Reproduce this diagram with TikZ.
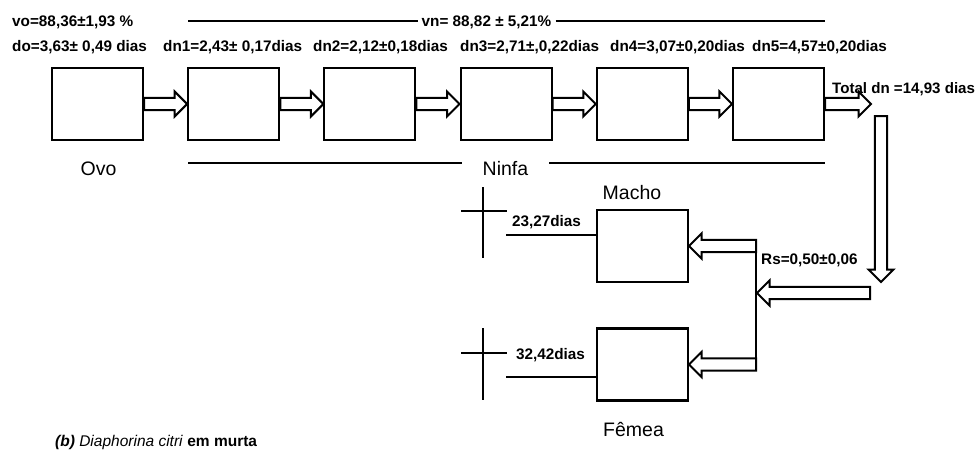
\documentclass[tikz,border=0pt]{standalone}
\usepackage{fontspec}
\setmainfont{Liberation Sans}
\usepackage{tikz}
\usetikzlibrary{calc}
\definecolor{InkDark}{RGB}{0,0,0}

\begin{document}
\begin{tikzpicture}[x=1pt, y=-1pt,
    stage/.style={rectangle, draw=InkDark, line width=2.1pt,
                  minimum width=91pt, minimum height=72pt, inner sep=0pt},
    datum/.style={font=\fontsize{15.3}{18}\selectfont\bfseries, inner sep=0pt},
    stagename/.style={font=\fontsize{19.5}{23}\selectfont, inner sep=0pt},
    bar/.style={draw=InkDark, line width=2pt},
    hollow/.style={draw=InkDark, line width=2pt, line join=miter, to path={
        ($(\tikztostart)!6.2pt!90:(\tikztotarget)$)
        -- ($($(\tikztotarget)!12.5pt!(\tikztostart)$)!6.2pt!90:(\tikztotarget)$)
        -- ($($(\tikztotarget)!12.5pt!(\tikztostart)$)!12.5pt!90:(\tikztotarget)$)
        -- (\tikztotarget)
        -- ($($(\tikztotarget)!12.5pt!(\tikztostart)$)!12.5pt!-90:(\tikztotarget)$)
        -- ($($(\tikztotarget)!12.5pt!(\tikztostart)$)!6.2pt!-90:(\tikztotarget)$)
        -- ($(\tikztostart)!6.2pt!-90:(\tikztotarget)$) -- cycle}}
  ]
    \useasboundingbox (0,0) rectangle (980,452);

    \node[stage] (e1) at (97.5,104) {};
    \node[stage] (n1) at (233.7,104) {};
    \node[stage] (n2) at (369.9,104) {};
    \node[stage] (n3) at (506.1,104) {};
    \node[stage] (n4) at (642.3,104) {};
    \node[stage] (n5) at (778.5,104) {};
    \node[stage] (mac) at (642.5,246) {};
    \node[stage] (fem) at (642.5,364.5) {};

    \coordinate (out) at (871,104);
    \coordinate (dwA) at (881,116);
    \coordinate (dwB) at (881,282);
    \coordinate (rsA) at (870,293);
    \coordinate (rsB) at (757,293);
    \coordinate (brT) at (756,240);
    \coordinate (brB) at (756,371);
    \coordinate (brM) at (756,246);
    \coordinate (brF) at (756,364.5);

    \draw[hollow] (e1.east) to (n1.west);
    \draw[hollow] (n1.east) to (n2.west);
    \draw[hollow] (n2.east) to (n3.west);
    \draw[hollow] (n3.east) to (n4.west);
    \draw[hollow] (n4.east) to (n5.west);
    \draw[hollow] (n5.east) to (out);
    \draw[hollow] (dwA) to (dwB);
    \draw[hollow] (rsA) to (rsB);
    \draw[bar] (brT) -- (brB);
    \draw[hollow] (brM) to (mac.east);
    \draw[hollow] (brF) to (fem.east);

    \node[datum, anchor=west] (vo) at (12,22) {vo=88,36±1,93 \%};
    \node[datum, anchor=west] (do) at (12,47) {do=3,63± 0,49 dias};
    \node[datum, anchor=west] (dn1) at (163,47) {dn1=2,43± 0,17dias};
    \node[datum, anchor=west] (dn2) at (313,47) {dn2=2,12±0,18dias};
    \node[datum, anchor=west] (dn3) at (460,47) {dn3=2,71±,0,22dias};
    \node[datum, anchor=west] (dn4) at (610,47) {dn4=3,07±0,20dias};
    \node[datum, anchor=west] (dn5) at (752,47) {dn5=4,57±0,20dias};

    \coordinate (tl1) at (188,21);
    \coordinate (tl2) at (825,21);
    \node[datum, inner xsep=4pt] (vn) at (486.5,22) {vn= 88,82 ± 5,21\%};
    \draw[bar] (tl1) -- (tl1 -| vn.west);
    \draw[bar] (tl2 -| vn.east) -- (tl2);

    \coordinate (bl1) at (188,163);
    \coordinate (bl2) at (825,163);
    \node[stagename, anchor=base, inner xsep=21pt] (nin) at (505.5,175) {Ninfa};
    \draw[bar] (bl1) -- (bl1 -| nin.west);
    \draw[bar] (bl2 -| nin.east) -- (bl2);

    \node[stagename, anchor=base] (ovo) at (98.5,175.5) {Ovo};
    \node[stagename, anchor=base] (mch) at (632,199) {Macho};
    \node[stagename, anchor=base] (fma) at (633.5,436) {Fêmea};

    \node[datum, anchor=west, font=\fontsize{15.1}{18}\selectfont\bfseries] (tot) at (832,89) {Total dn =14,93 dias};
    \node[datum, anchor=west] (rs) at (761,260) {Rs=0,50±0,06};

    \draw[bar] (483,187) -- (483,258);
    \draw[bar] (461,211) -- (507,211);
    \draw[bar] (483,328) -- (483,400);
    \draw[bar] (461,353) -- (507,353);

    \coordinate (dM) at (506,235);
    \coordinate (dF) at (506,377);
    \draw[bar] (dM) -- (dM -| mac.west);
    \draw[bar] (dF) -- (dF -| fem.west);
    \node[datum] (tM) at (546.5,222) {23,27dias};
    \node[datum] (tF) at (550.5,355) {32,42dias};

    \node[anchor=base west, inner sep=0pt, font=\fontsize{15.5}{18}\selectfont] (cap) at (55,446)
      {\textbf{\textit{(b)}} \textit{Diaphorina citri} \textbf{em murta}};
\end{tikzpicture}
\end{document}
